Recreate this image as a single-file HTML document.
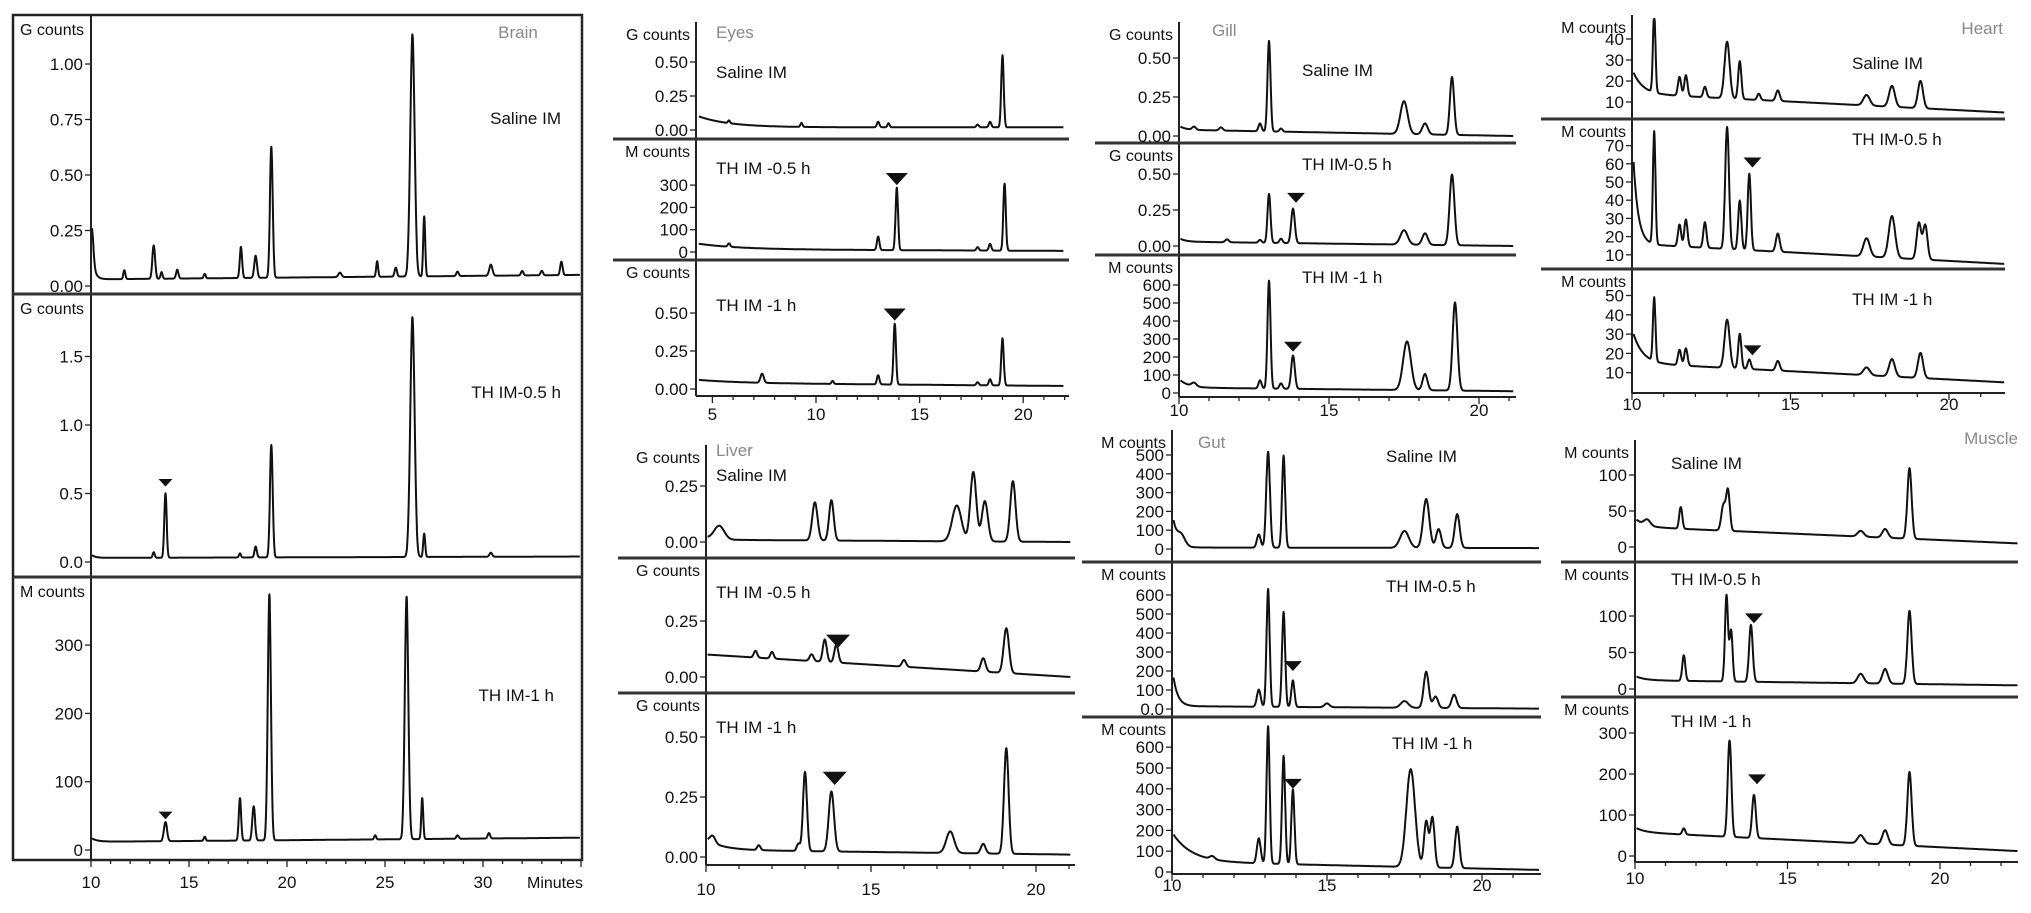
<!DOCTYPE html>
<html><head><meta charset="utf-8"><style>
html,body{margin:0;padding:0;background:#fff}
svg{display:block;font-family:"Liberation Sans",Arial,sans-serif}
</style></head><body>
<svg id="fig" width="2031" height="913" viewBox="0 0 2031 913" xmlns="http://www.w3.org/2000/svg"></svg>
<script>
// ---- data: peaks [retention time (min), height, width(sigma)] ----
const brainSaline=[[10.05,0.13,0.08],[11.7,0.04,0.05],[13.2,0.15,0.07],[13.6,0.03,0.05],[14.4,0.04,0.06],[15.8,0.02,0.05],[17.65,0.14,0.06],[18.4,0.1,0.07],[19.2,0.59,0.07],[22.7,0.02,0.08],[24.6,0.07,0.05],[25.55,0.04,0.06],[26.4,1.09,0.11],[27.0,0.27,0.05],[28.7,0.02,0.06],[30.4,0.05,0.08],[32.0,0.02,0.06],[33.0,0.02,0.06],[34.0,0.06,0.06]];
const brainTH05=[[13.2,0.04,0.05],[13.8,0.47,0.06],[17.6,0.03,0.05],[18.4,0.08,0.06],[19.2,0.82,0.07],[26.4,1.75,0.11],[27.0,0.17,0.05],[30.4,0.03,0.07]];
const brainTH1=[[13.8,28,0.08],[15.8,6,0.05],[17.6,62,0.06],[18.3,50,0.07],[19.1,360,0.08],[24.5,6,0.05],[26.1,355,0.09],[26.9,60,0.05],[28.7,5,0.06],[30.3,8,0.06]];
const eyesSaline=[[9.3,0.03,0.05],[5.8,0.02,0.05],[13.0,0.04,0.06],[13.5,0.03,0.05],[17.8,0.02,0.06],[18.4,0.04,0.06],[19.0,0.53,0.06]];
const eyesTH05=[[5.8,15,0.06],[13.0,60,0.06],[13.9,280,0.06],[17.8,15,0.06],[18.4,30,0.06],[19.1,300,0.06]];
const eyesTH1=[[7.4,0.06,0.08],[10.8,0.02,0.05],[13.0,0.06,0.06],[13.8,0.4,0.06],[17.8,0.02,0.06],[18.4,0.04,0.06],[19.0,0.31,0.06]];
const liverSaline=[[10.4,0.06,0.15],[13.3,0.17,0.08],[13.8,0.18,0.07],[17.6,0.16,0.14],[18.1,0.31,0.09],[18.45,0.18,0.09],[19.3,0.27,0.08]];
const liverTH05=[[11.5,0.03,0.05],[12.0,0.03,0.05],[13.2,0.03,0.06],[13.6,0.1,0.06],[13.95,0.08,0.06],[16.0,0.03,0.06],[18.4,0.06,0.07],[19.1,0.2,0.08]];
const liverTH1=[[10.2,0.03,0.08],[11.6,0.02,0.05],[12.8,0.03,0.05],[13.0,0.33,0.06],[13.8,0.25,0.08],[17.4,0.09,0.12],[18.4,0.04,0.07],[19.1,0.44,0.07]];
const gillSaline=[[10.5,0.02,0.06],[11.4,0.02,0.06],[12.7,0.05,0.05],[13.0,0.58,0.05],[13.4,0.02,0.05],[17.5,0.21,0.12],[18.2,0.07,0.09],[19.1,0.37,0.07]];
const gillTH05=[[11.6,0.02,0.06],[12.7,0.02,0.05],[13.0,0.34,0.05],[13.4,0.03,0.05],[13.8,0.24,0.06],[17.5,0.1,0.12],[18.2,0.08,0.09],[19.1,0.49,0.08]];
const gillTH1=[[10.5,20,0.08],[12.7,45,0.05],[13.0,600,0.05],[13.4,30,0.05],[13.8,185,0.06],[17.6,270,0.13],[18.2,90,0.08],[19.2,490,0.08]];
const gutSaline=[[10.3,50,0.12],[12.8,70,0.06],[13.1,510,0.06],[13.6,490,0.05],[17.5,90,0.14],[18.2,260,0.1],[18.6,100,0.08],[19.2,180,0.08]];
const gutTH05=[[12.8,90,0.06],[13.1,620,0.05],[13.6,500,0.05],[13.9,140,0.05],[15.0,20,0.08],[17.5,35,0.12],[18.2,190,0.08],[18.5,60,0.08],[19.1,70,0.08]];
const gutTH1=[[11.3,15,0.08],[12.8,120,0.06],[13.1,660,0.05],[13.6,520,0.05],[13.9,360,0.05],[17.7,470,0.14],[18.2,220,0.07],[18.4,240,0.07],[19.2,200,0.07]];
const heartSaline=[[10.7,38,0.04],[11.5,9,0.05],[11.7,10,0.05],[12.3,5,0.05],[13.0,27,0.08],[13.4,18,0.05],[14.0,3,0.05],[14.6,5,0.06],[17.4,5,0.1],[18.2,10,0.09],[19.1,13,0.08]];
const heartTH05=[[10.7,62,0.04],[11.5,12,0.05],[11.7,15,0.05],[12.3,14,0.05],[13.0,67,0.06],[13.4,27,0.05],[13.7,42,0.05],[14.6,10,0.06],[17.4,10,0.1],[18.2,23,0.1],[19.05,20,0.07],[19.25,19,0.07]];
const heartTH1=[[10.7,33,0.04],[11.5,8,0.05],[11.7,9,0.05],[13.0,25,0.08],[13.4,18,0.05],[13.7,5,0.05],[14.6,5,0.06],[17.4,4,0.1],[18.2,9,0.09],[19.1,13,0.08]];
const muscleSaline=[[10.4,8,0.1],[11.5,30,0.05],[12.9,35,0.07],[13.05,55,0.06],[17.4,8,0.1],[18.2,12,0.09],[19.0,98,0.07]];
const muscleTH05=[[11.6,35,0.05],[13.0,118,0.05],[13.15,70,0.05],[13.8,78,0.06],[17.4,13,0.1],[18.2,20,0.09],[19.0,100,0.07]];
const muscleTH1=[[11.6,15,0.05],[13.1,235,0.06],[13.9,105,0.06],[17.4,20,0.1],[18.2,35,0.09],[19.0,180,0.07]];
// baselines: [level at start, level at end, start spike, spike decay (min)]
const baselines={brainSaline:[0.03,0.05,0.1,0.15],brainTH05:[0.03,0.04,0.02,0.2],brainTH1:[12,18,5,0.3],
eyesSaline:[0.02,0.02,0.08,1.5],eyesTH05:[12,5,25,2],eyesTH1:[0.04,0.02,0.02,2],
liverSaline:[0.01,0.0,0.01,0.3],liverTH05:[0.1,0.0,0.0,1],liverTH1:[0.03,0.01,0.04,0.5],
gillSaline:[0.04,0.0,0.02,0.2],gillTH05:[0.03,0.0,0.02,0.2],gillTH1:[30,10,40,0.3],
gutSaline:[8,5,140,0.15],gutTH05:[15,2,150,0.15],gutTH1:[50,10,130,0.6],
heartSaline:[14,5,10,0.3],heartTH05:[16,5,45,0.15],heartTH1:[15,5,15,0.3],
muscleSaline:[28,5,10,0.3],muscleTH05:[12,5,5,0.3],muscleTH1:[58,12,10,0.3]};
// arrows [time, value at tip]
const arrows={brainTH05:[[13.8,0.55]],brainTH1:[[13.8,45]],eyesTH05:[[13.9,300]],eyesTH1:[[13.8,0.45]],liverTH05:[[14.0,0.13]],liverTH1:[[13.9,0.3]],gillTH05:[[13.9,0.3]],gillTH1:[[13.8,230]],gutTH05:[[13.9,200]],gutTH1:[[13.9,400]],heartTH05:[[13.8,58]],heartTH1:[[13.8,19]],muscleTH05:[[13.9,90]],muscleTH1:[[14.0,175]]};
const brainXTicks=[10,15,20,25,30];
const eyesXTicks=[5,10,15,20];
const std3XTicks=[10,15,20];

// ---- layout ----
const cols={
 brain:{ax:91,k:19.6,t0:10,t1:35,top:15,bot:860,sepL:13,sepR:582,xt:brainXTicks,tickY:888,title:'Brain',tx:518,ty:38,ta:'middle',arrow:7},
 eyes:{ax:696,k:20.72,t0:4.3,t1:22,top:22,bot:396,sepL:613,sepR:1069,xt:eyesXTicks,tickY:420,title:'Eyes',tx:716,ty:38,ta:'start',arrow:11},
 liver:{ax:706,k:33,t0:10,t1:21.1,top:445,bot:865,sepL:618,sepR:1075,xt:std3XTicks,tickY:895,title:'Liver',tx:716,ty:456,ta:'start',arrow:12},
 gill:{ax:1179,k:30,t0:10,t1:21.2,top:22,bot:397,sepL:1095,sepR:1516,xt:std3XTicks,tickY:416,title:'Gill',tx:1212,ty:36,ta:'start',arrow:9},
 gut:{ax:1172,k:31,t0:10,t1:21.9,top:430,bot:874,sepL:1082,sepR:1541,xt:std3XTicks,tickY:891,title:'Gut',tx:1198,ty:448,ta:'start',arrow:9},
 heart:{ax:1632,k:31.7,t0:10,t1:21.8,top:15,bot:393,sepL:1541,sepR:2005,xt:std3XTicks,tickY:410,title:'Heart',tx:2003,ty:34,ta:'end',arrow:9},
 muscle:{ax:1635,k:30.5,t0:10,t1:22.6,top:440,bot:862,sepL:1561,sepR:2018,xt:std3XTicks,tickY:884,title:'Muscle',tx:2018,ty:444,ta:'end',arrow:9}
};
const panels=[
 ['brain','brainSaline',286,222,15,294,'G counts',[0,0.25,0.5,0.75,1],['0.00','0.25','0.50','0.75','1.00'],'Saline IM',561,124,'end'],
 ['brain','brainTH05',562,137,294,577,'G counts',[0,0.5,1,1.5],['0.0','0.5','1.0','1.5'],'TH IM-0.5 h',561,398,'end'],
 ['brain','brainTH1',850,0.683,577,860,'M counts',[0,100,200,300],['0','100','200','300'],'TH IM-1 h',554,701,'end'],
 ['eyes','eyesSaline',130,136,22,139,'G counts',[0,0.25,0.5],['0.00','0.25','0.50'],'Saline IM',716,78,'start'],
 ['eyes','eyesTH05',252,0.223,139,260,'M counts',[0,100,200,300],['0','100','200','300'],'TH IM -0.5 h',716,174,'start'],
 ['eyes','eyesTH1',389,152,260,396,'G counts',[0,0.25,0.5],['0.00','0.25','0.50'],'TH IM -1 h',716,311,'start'],
 ['liver','liverSaline',542,224,445,558,'G counts',[0,0.25],['0.00','0.25'],'Saline IM',716,481,'start'],
 ['liver','liverTH05',677,224,558,693,'G counts',[0,0.25],['0.00','0.25'],'TH IM -0.5 h',716,598,'start'],
 ['liver','liverTH1',857,240,693,865,'G counts',[0,0.25,0.5],['0.00','0.25','0.50'],'TH IM -1 h',716,733,'start'],
 ['gill','gillSaline',136,156,22,143,'G counts',[0,0.25,0.5],['0.00','0.25','0.50'],'Saline IM',1302,76,'start'],
 ['gill','gillTH05',246,144,143,255,'G counts',[0,0.25,0.5],['0.00','0.25','0.50'],'TH IM-0.5 h',1302,170,'start'],
 ['gill','gillTH1',393,0.18,255,397,'M counts',[0,100,200,300,400,500,600],['0','100','200','300','400','500','600'],'TH IM -1 h',1302,283,'start'],
 ['gut','gutSaline',549,0.188,430,562,'M counts',[0,100,200,300,400,500],['0','100','200','300','400','500'],'Saline IM',1386,462,'start'],
 ['gut','gutTH05',709,0.19,562,717,'M counts',[0,100,200,300,400,500,600],['0.0','100','200','300','400','500','600'],'TH IM-0.5 h',1386,592,'start'],
 ['gut','gutTH1',872,0.208,717,874,'M counts',[0,100,200,300,400,500,600],['0','100','200','300','400','500','600'],'TH IM -1 h',1392,749,'start'],
 ['heart','heartSaline',123,2.1,15,119,'M counts',[10,20,30,40],['10','20','30','40'],'Saline IM',1852,69,'start'],
 ['heart','heartTH05',273,1.82,119,269,'M counts',[10,20,30,40,50,60,70],['10','20','30','40','50','60','70'],'TH IM-0.5 h',1852,145,'start'],
 ['heart','heartTH1',392,1.93,269,393,'M counts',[10,20,30,40,50],['10','20','30','40','50'],'TH IM -1 h',1852,305,'start'],
 ['muscle','muscleSaline',547,0.72,440,562,'M counts',[0,50,100],['0','50','100'],'Saline IM',1671,469,'start'],
 ['muscle','muscleTH05',689,0.73,562,697,'M counts',[0,50,100],['0','50','100'],'TH IM-0.5 h',1671,585,'start'],
 ['muscle','muscleTH1',856,0.41,697,862,'M counts',[0,100,200,300],['0','100','200','300'],'TH IM -1 h',1671,727,'start']
];
const peakSets={brainSaline,brainTH05,brainTH1,eyesSaline,eyesTH05,eyesTH1,liverSaline,liverTH05,liverTH1,gillSaline,gillTH05,gillTH1,gutSaline,gutTH05,gutTH1,heartSaline,heartTH05,heartTH1,muscleSaline,muscleTH05,muscleTH1};

const NS='http://www.w3.org/2000/svg';
const svg=document.getElementById('fig');
function mk(tag,attrs,parent,text){const e=document.createElementNS(NS,tag);for(const k in attrs)e.setAttribute(k,attrs[k]);if(text!==undefined)e.textContent=text;(parent||svg).appendChild(e);return e;}

const box=mk('rect',{x:13,y:15,width:569,height:845,fill:'none',stroke:'#222','stroke-width':2.5});


const rline=mk('line',{x1:582,y1:15,x2:582,y2:860,stroke:'#333','stroke-width':1.5,'stroke-dasharray':'2 2'});



for(const name in cols){
 const c=cols[name];
 const g=mk('g',{});
 
 
 c.x=t=>name==='eyes'?816+(t-10)*c.k:c.ax+(t-10)*c.k;
 const ya=mk('line',{x1:c.ax,y1:c.top,x2:c.ax,y2:c.bot,stroke:'#222','stroke-width':2},g);
 
 
 const xa=mk('line',{x1:name==='brain'?13:c.ax,y1:c.bot,x2:c.sepR,y2:c.bot,stroke:'#222','stroke-width':2},g);
 
 
 for(let t=Math.ceil(c.t0);t<=c.t1;t++){
  const x=c.x(t);
  mk('line',{x1:x,y1:c.bot,x2:x,y2:c.bot+(t%5===0?7:4),stroke:'#222','stroke-width':1.3},g);
 }
 c.xt.forEach(t=>{
  const lb=mk('text',{x:c.x(t),y:c.tickY,'font-size':17,'text-anchor':'middle',fill:'#111'},g,String(t));
  
  
 });
 if(name==='brain'){
  const m=mk('text',{x:555,y:c.tickY,'font-size':16,'text-anchor':'middle',fill:'#111'},g,'Minutes');
  
  
 }
 const tt=mk('text',{x:c.tx,y:c.ty,'font-size':17,'text-anchor':c.ta,fill:'#888'},g,c.title);
 
 
}

panels.forEach((p,i)=>{
 const [colName,key,y0,ky,top,bot,unit,ticks,tickLabels,cond,lx,ly,anc]=p;
 const c=cols[colName];
 const g=mk('g',{});
 
 
 const yv=v=>y0-v*ky;
 if(bot!==c.bot){
  const s=mk('line',{x1:c.sepL,y1:bot,x2:c.sepR,y2:bot,stroke:'#333','stroke-width':3},g);
  
  
 }
 ticks.forEach((v,j)=>{
  const y=yv(v);
  mk('line',{x1:c.ax-6,y1:y,x2:c.ax,y2:y,stroke:'#222','stroke-width':1.3},g);
  const t=mk('text',{x:c.ax-8,y:y+6,'font-size':17,'text-anchor':'end',fill:'#111'},g,tickLabels[j]);
  
  
 });
 const u=mk('text',{x:colName==='brain'?20:c.ax-6,y:top+(colName==='brain'?20:18),'font-size':16,'text-anchor':colName==='brain'?'start':'end',fill:'#111'},g,unit);
 
 
 const cl=mk('text',{x:lx,y:ly,'font-size':17,'text-anchor':anc,fill:'#111'},g,cond);
 
 
 const pk=peakSets[key], b=baselines[key];
 const t0=c.t0+0.05,t1=c.t1-0.05;
 let d='';
 for(let t=t0;t<=t1;t+=0.01){
  let v=b[0]+(b[1]-b[0])*(t-t0)/(t1-t0)+b[2]*Math.exp(-(t-t0)/b[3]);
  pk.forEach(q=>{v+=q[1]*Math.exp(-0.5*Math.pow((t-q[0])/q[2],2));});
  let y=Math.max(top+4,Math.min(bot-2,yv(v)));
  d+=(d?'L':'M')+c.x(t).toFixed(1)+' '+y.toFixed(1);
 }
 const path=mk('path',{d:d,fill:'none',stroke:'#111','stroke-width':2,'stroke-linejoin':'round'},g);
 
 
 (arrows[key]||[]).forEach(a=>{
  const x=c.x(a[0]),y=Math.max(top+c.arrow+4,yv(a[1])),s=c.arrow;
  const tri=mk('polygon',{points:`${x-s},${y-s*1.1} ${x+s},${y-s*1.1} ${x},${y}`,fill:'#111'},g);
  
  
 });
});
</script>
</body></html>
